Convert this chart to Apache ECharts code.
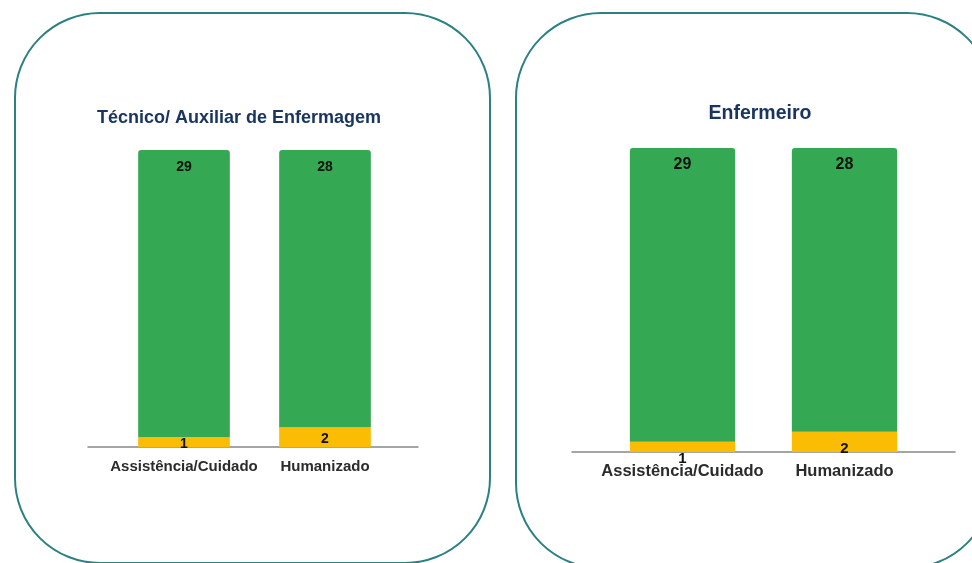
<!DOCTYPE html>
<html>
<head>
<meta charset="utf-8">
<script src="https://cdn.jsdelivr.net/npm/echarts@6/dist/echarts.min.js"></script>
<style>
html,body{margin:0;padding:0;background:#fff;}
#chart{width:972px;height:563px;}
</style>
</head>
<body>
<div id="chart"></div>
<script>
const categories = ['Assistência/Cuidado', 'Humanizado'];
const titles = ['Técnico/ Auxiliar de Enfermagem', 'Enfermeiro'];
const tecnicoYellow = [1, 2];
const tecnicoGreen = [29, 28];
const enfermeiroYellow = [1, 2];
const enfermeiroGreen = [29, 28];

const GREEN = '#34a853';
const YELLOW = '#fbbc04';
const FONT = 'Liberation Sans, Arial, sans-serif';
const BORDER = '#2b8082';

const chart = echarts.init(document.getElementById('chart'));

const rightYellowOffsets = [[0, 12], [0, 7]];

const option = {
  animation: false,
  backgroundColor: '#fff',
  graphic: [
    { type: 'rect', shape: { x: 15, y: 13, width: 475, height: 550, r: 85 },
      style: { fill: 'none', stroke: BORDER, lineWidth: 2 }, z: -1 },
    { type: 'rect', shape: { x: 516, y: 13, width: 476, height: 555, r: 85 },
      style: { fill: 'none', stroke: BORDER, lineWidth: 2 }, z: -1 }
  ],
  title: [
    { text: titles[0], left: 234, top: 104, textAlign: 'center',
      textStyle: { fontFamily: FONT, fontWeight: 'bold', fontSize: 18, color: '#1a3660' } },
    { text: titles[1], left: 755, top: 99, textAlign: 'center',
      textStyle: { fontFamily: FONT, fontWeight: 'bold', fontSize: 19.5, color: '#1a3660' } }
  ],
  grid: [
    { left: 113.5, width: 282, top: 150, bottom: 116 },
    { left: 601.5, width: 324, top: 148, bottom: 111 },
    { left: 88, width: 330, top: 150, bottom: 116 },
    { left: 572, width: 383, top: 148, bottom: 111 }
  ],
  xAxis: [
    { type: 'category', gridIndex: 0, data: categories,
      axisLine: { show: false }, axisTick: { show: false },
      axisLabel: { interval: 0, hideOverlap: false, margin: 12, fontFamily: FONT, fontWeight: 'bold', fontSize: 15, color: '#2b2b2b' } },
    { type: 'category', gridIndex: 1, data: categories,
      axisLine: { show: false }, axisTick: { show: false },
      axisLabel: { interval: 0, hideOverlap: false, margin: 11, fontFamily: FONT, fontWeight: 'bold', fontSize: 16.5, color: '#2b2b2b' } },
    { type: 'category', gridIndex: 2, data: [''], z: 1,
      axisLine: { show: true, lineStyle: { color: '#888', width: 1.5 } },
      axisTick: { show: false }, axisLabel: { show: false } },
    { type: 'category', gridIndex: 3, data: [''], z: 1,
      axisLine: { show: true, lineStyle: { color: '#888', width: 1.5 } },
      axisTick: { show: false }, axisLabel: { show: false } }
  ],
  yAxis: [0, 1, 2, 3].map(i => ({
    type: 'value', gridIndex: i, min: 0, max: 30, show: false,
    splitLine: { show: false }
  })),
  series: [
    { type: 'bar', xAxisIndex: 0, yAxisIndex: 0, stack: 'a', data: tecnicoYellow,
      barCategoryGap: '35%', itemStyle: { color: YELLOW }, z: 2,
      label: { show: true, position: 'inside', offset: [0, 2], fontFamily: FONT, fontWeight: 'bold', fontSize: 14, color: '#111' } },
    { type: 'bar', xAxisIndex: 0, yAxisIndex: 0, stack: 'a', data: tecnicoGreen,
      barCategoryGap: '35%', itemStyle: { color: GREEN, borderRadius: [3, 3, 0, 0] },
      label: { show: true, position: 'insideTop', distance: 10, fontFamily: FONT, fontWeight: 'bold', fontSize: 14, color: '#111' } },
    { type: 'bar', xAxisIndex: 1, yAxisIndex: 1, stack: 'b',
      data: enfermeiroYellow.map((v, i) => ({ value: v, label: { offset: rightYellowOffsets[i] } })),
      barCategoryGap: '35%', itemStyle: { color: YELLOW }, z: 2,
      label: { show: true, position: 'inside', fontFamily: FONT, fontWeight: 'bold', fontSize: 15, color: '#111' } },
    { type: 'bar', xAxisIndex: 1, yAxisIndex: 1, stack: 'b', data: enfermeiroGreen,
      barCategoryGap: '35%', itemStyle: { color: GREEN, borderRadius: [3, 3, 0, 0] },
      label: { show: true, position: 'insideTop', distance: 9, fontFamily: FONT, fontWeight: 'bold', fontSize: 16, color: '#111' } }
  ]
};
chart.setOption(option);
</script>
</body>
</html>
